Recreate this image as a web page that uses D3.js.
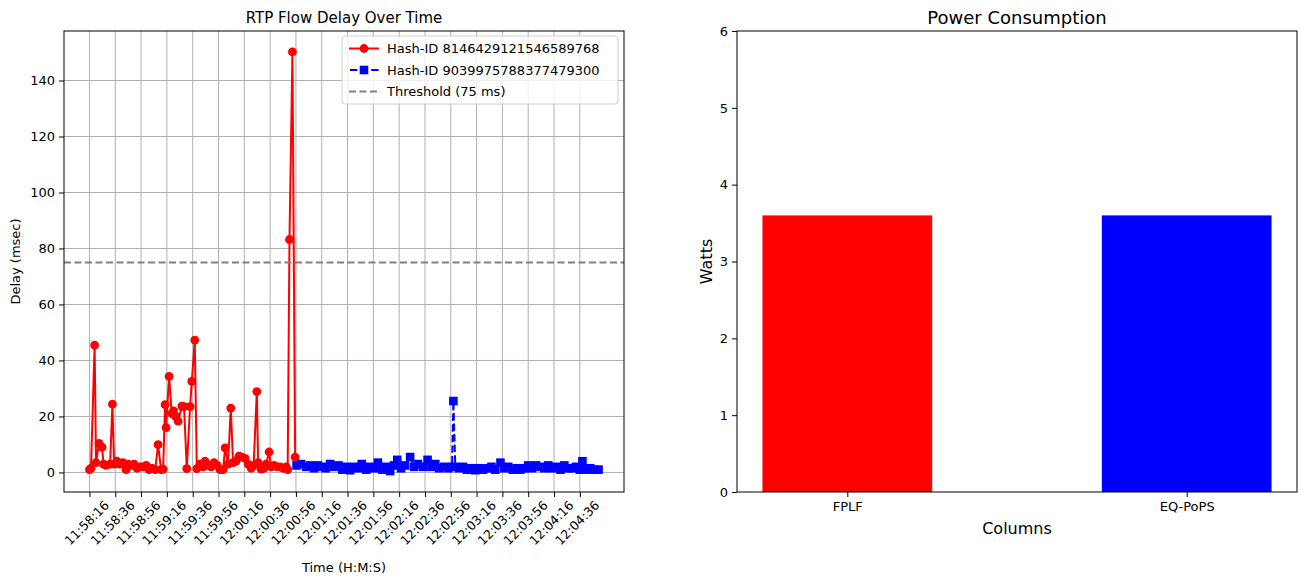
<!DOCTYPE html>
<html>
<head>
<meta charset="utf-8">
<script src="https://cdn.jsdelivr.net/npm/d3@7"></script>
<style>
  body { margin: 0; background: #fff; }
  text { font-family: "DejaVu Sans", sans-serif; fill: #000; }
</style>
</head>
<body>
<svg id="chart" width="1301" height="579"></svg>
<script>
// ---- data ----
var startTime = "11:58:16";
// seconds after start, delay in msec
var redSec = [0, 1.2, 4.0, 5.1, 7.4, 9.8, 10.9, 12.9, 16.0, 17.8, 19.1, 21.4, 23.7, 26.0, 28.4, 29.9,
  32.2, 34.6, 36.9, 39.2, 41.6, 43.9, 46.2, 48.5, 50.9, 53.2, 55.5, 57.1, 58.6, 59.4, 61.7, 63.8,
  65.2, 66.7, 68.7, 71.6, 73.3, 75.4, 78.0, 79.3, 81.6, 83.2, 85.7, 88.1, 89.6, 91.9, 94.3, 96.6,
  98.9, 101.2, 103.6, 105.1, 107.4, 109.5, 111.3, 113.6, 115.9, 118.1, 120.6, 123.0, 125.3, 127.2,
  129.7, 130.7, 133.0, 135.3, 136.9, 139.2, 140.8, 143.1, 145.4, 147.7, 150.1, 152.4, 153.6, 155.0,
  157.3, 159.4];
var redDelay = [1.0, 1.5, 45.5, 3.5, 10.4, 9.0, 3.0, 2.5, 3.0, 24.4, 3.0, 4.0, 3.0, 3.5, 1.0, 3.0,
  2.5, 3.0, 1.5, 2.0, 2.0, 2.5, 1.0, 1.5, 1.0, 9.9, 1.0, 1.2, 24.2, 16.0, 34.3, 21.0,
  22.0, 20.0, 18.3, 23.7, 23.5, 1.4, 23.5, 32.5, 47.3, 1.4, 3.0, 2.0, 4.0, 2.5, 2.0, 3.5,
  2.5, 1.0, 1.0, 8.8, 3.0, 23.0, 3.5, 4.0, 5.8, 5.5, 5.0, 3.0, 1.5, 2.5,
  28.9, 3.5, 1.2, 1.5, 3.0, 7.3, 2.0, 2.5, 2.0, 2.0, 1.5, 2.0, 1.0, 83.2,
  150.2, 5.5];
var blueSec = [160.5, 164, 168, 171, 174, 177, 180, 183, 186.5, 189.5, 193, 196, 199, 202, 205, 208,
  211, 214.5, 217.5, 220.5, 223.5, 227, 230, 233, 236, 238.5, 241.5, 244.5, 248.5, 251.5, 254.5,
  258.5, 262, 265, 268, 271, 275, 278, 281, 282, 283.5, 286.5, 289.5, 292.5, 296, 299, 302, 305,
  308.5, 311.5, 314.5, 318.5, 321.5, 324.5, 328, 331, 334, 337, 340, 343, 346, 349.5, 352.5, 355.5,
  358.5, 361.5, 365, 368, 371, 374, 377, 380, 382, 385, 388, 391, 394.5];
var blueDelay = [2.5, 3, 2, 2.5, 1.5, 2.5, 2, 1.5, 3, 2, 2.5, 1, 2, 0.8, 2, 1.5,
  3, 1, 2, 1.5, 3.5, 1, 2, 0.5, 2.5, 4.5, 1.5, 2.5, 5.5, 2, 3,
  2, 4.5, 2, 3, 1.5, 2, 1.5, 2, 25.5, 2, 1.5, 2, 1, 1.5, 0.8, 1.5, 1,
  1.5, 2, 1, 3.5, 1.5, 2, 1, 1.5, 1, 1.5, 2.5, 1.5, 2.5, 2, 1.5, 2.5,
  1.5, 2, 1, 2.5, 1.5, 1.5, 2, 1, 4, 1, 1.5, 1, 1];
var threshold = 75;
var tickEvery = 20; // seconds
var lastTickSec = 380;
var delayTicks = [0, 20, 40, 60, 80, 100, 120, 140];
var seriesNames = ["Hash-ID 8146429121546589768", "Hash-ID 9039975788377479300", "Threshold (75 ms)"];

var powerCats = ["FPLF", "EQ-PoPS"];
var powerVals = [3.6, 3.6];
var powerColors = ["#ff0000", "#0000ff"];
var powerTicks = [0, 1, 2, 3, 4, 5, 6];

var svg = d3.select("#chart");

// ---- left: delay over time ----
var parts = startTime.split(":").map(Number);
var t0 = new Date(2024, 0, 1, parts[0], parts[1], parts[2]);
function toTime(s) { return new Date(t0.getTime() + s * 1000); }

var red = redSec.map(function(s, i){ return {t: toTime(s), v: redDelay[i]}; });
var blue = blueSec.map(function(s, i){ return {t: toTime(s), v: blueDelay[i]}; });
var all = red.concat(blue);

var L = {x0: 64, x1: 624, y0: 31, y1: 492};

var tExt = d3.extent(all, function(d){ return d.t.getTime(); });
var tPad = (tExt[1] - tExt[0]) * 0.05;
var x = d3.scaleTime()
  .domain([new Date(tExt[0] - tPad), new Date(tExt[1] + tPad)])
  .range([L.x0, L.x1]);

var vExt = d3.extent(all, function(d){ return d.v; });
var vPad = (vExt[1] - vExt[0]) * 0.05;
var y = d3.scaleLinear()
  .domain([vExt[0] - vPad, vExt[1] + vPad])
  .range([L.y1, L.y0]);

var timeTicks = d3.range(0, lastTickSec + 1, tickEvery).map(toTime);
var fmt = d3.timeFormat("%H:%M:%S");

var left = svg.append("g");

// grid
left.append("g").selectAll("line").data(timeTicks).join("line")
  .attr("x1", function(d){ return x(d); }).attr("x2", function(d){ return x(d); })
  .attr("y1", L.y0).attr("y2", L.y1)
  .attr("stroke", "#b0b0b0").attr("stroke-width", 1);
left.append("g").selectAll("line").data(delayTicks).join("line")
  .attr("x1", L.x0).attr("x2", L.x1)
  .attr("y1", function(d){ return y(d); }).attr("y2", function(d){ return y(d); })
  .attr("stroke", "#b0b0b0").attr("stroke-width", 1);

left.append("clipPath").attr("id", "clipL").append("rect")
  .attr("x", L.x0).attr("y", L.y0).attr("width", L.x1 - L.x0).attr("height", L.y1 - L.y0);
var plot = left.append("g").attr("clip-path", "url(#clipL)");

var line = d3.line().x(function(d){ return x(d.t); }).y(function(d){ return y(d.v); });

plot.append("path").datum(red).attr("d", line)
  .attr("fill", "none").attr("stroke", "#ff0000").attr("stroke-width", 2).attr("stroke-linejoin", "round");
plot.append("g").selectAll("circle").data(red).join("circle")
  .attr("cx", function(d){ return x(d.t); }).attr("cy", function(d){ return y(d.v); })
  .attr("r", 4.4).attr("fill", "#ff0000");

plot.append("path").datum(blue).attr("d", line)
  .attr("fill", "none").attr("stroke", "#0000ff").attr("stroke-width", 2).attr("stroke-dasharray", "7.4,3.2");
plot.append("g").selectAll("rect").data(blue).join("rect")
  .attr("x", function(d){ return x(d.t) - 4.3; }).attr("y", function(d){ return y(d.v) - 4.3; })
  .attr("width", 8.6).attr("height", 8.6).attr("fill", "#0000ff");

plot.append("line")
  .attr("x1", L.x0).attr("x2", L.x1).attr("y1", y(threshold)).attr("y2", y(threshold))
  .attr("stroke", "#808080").attr("stroke-width", 1.8).attr("stroke-dasharray", "7,3.5");

// axes
var xAxisL = left.append("g").attr("transform", "translate(0," + L.y1 + ")")
  .call(d3.axisBottom(x).tickValues(timeTicks).tickFormat(fmt).tickSizeOuter(0).tickSize(5).tickPadding(3));
xAxisL.selectAll("text")
  .style("font-size", "12.5px")
  .attr("text-anchor", "middle")
  .attr("dy", null)
  .attr("y", 0)
  .attr("transform", "translate(0,34) rotate(-45)");
var yAxisL = left.append("g").attr("transform", "translate(" + L.x0 + ",0)")
  .call(d3.axisLeft(y).tickValues(delayTicks).tickSizeOuter(0).tickSize(5).tickPadding(4));
yAxisL.selectAll("text").style("font-size", "13px");
[xAxisL, yAxisL].forEach(function(a){
  a.select(".domain").remove();
  a.selectAll("line").attr("stroke", "#000");
});
left.append("rect").attr("x", L.x0).attr("y", L.y0)
  .attr("width", L.x1 - L.x0).attr("height", L.y1 - L.y0)
  .attr("fill", "none").attr("stroke", "#000").attr("stroke-width", 1);

left.append("text").attr("x", (L.x0 + L.x1) / 2).attr("y", 23)
  .attr("text-anchor", "middle").style("font-size", "15px").text("RTP Flow Delay Over Time");
left.append("text").attr("x", (L.x0 + L.x1) / 2).attr("y", 572)
  .attr("text-anchor", "middle").style("font-size", "13px").text("Time (H:M:S)");
left.append("text").attr("transform", "translate(20," + ((L.y0 + L.y1) / 2) + ") rotate(-90)")
  .attr("text-anchor", "middle").style("font-size", "13px").text("Delay (msec)");

// legend
var lg = left.append("g").attr("transform", "translate(342,36)");
lg.append("rect").attr("width", 276).attr("height", 68).attr("rx", 3)
  .attr("fill", "#fff").attr("fill-opacity", 0.8).attr("stroke", "#d0d0d0");
var rows = [12.5, 34, 55.5];
lg.append("line").attr("x1", 7).attr("x2", 37).attr("y1", rows[0]).attr("y2", rows[0])
  .attr("stroke", "#ff0000").attr("stroke-width", 2);
lg.append("circle").attr("cx", 22).attr("cy", rows[0]).attr("r", 4.4).attr("fill", "#ff0000");
lg.append("line").attr("x1", 7).attr("x2", 37).attr("y1", rows[1]).attr("y2", rows[1])
  .attr("stroke", "#0000ff").attr("stroke-width", 2).attr("stroke-dasharray", "7.4,3.2").attr("stroke-dashoffset", -1);
lg.append("rect").attr("x", 17.7).attr("y", rows[1] - 4.3).attr("width", 8.6).attr("height", 8.6).attr("fill", "#0000ff");
lg.append("line").attr("x1", 7).attr("x2", 37).attr("y1", rows[2]).attr("y2", rows[2])
  .attr("stroke", "#808080").attr("stroke-width", 1.8).attr("stroke-dasharray", "7,3.5");
lg.selectAll("text.lt").data(seriesNames).join("text").attr("class", "lt")
  .attr("x", 45).attr("y", function(d, i){ return rows[i] + 4.7; })
  .style("font-size", "13px").text(function(d){ return d; });

// ---- right: power consumption ----
var R = {x0: 737, x1: 1297, y0: 31, y1: 492};
var barW = 0.5;
var xb = d3.scaleLinear()
  .domain([-barW / 2 - 0.075, powerCats.length - 1 + barW / 2 + 0.075])
  .range([R.x0, R.x1]);
var yb = d3.scaleLinear().domain([0, 6]).range([R.y1, R.y0]);

var right = svg.append("g");
right.append("g").selectAll("rect").data(powerVals).join("rect")
  .attr("x", function(d, i){ return xb(i - barW / 2); })
  .attr("width", function(d, i){ return xb(i + barW / 2) - xb(i - barW / 2); })
  .attr("y", function(d){ return yb(d); })
  .attr("height", function(d){ return yb(0) - yb(d); })
  .attr("fill", function(d, i){ return powerColors[i]; });

var xAxisR = right.append("g").attr("transform", "translate(0," + R.y1 + ")")
  .call(d3.axisBottom(xb).tickValues(d3.range(powerCats.length))
    .tickFormat(function(d){ return powerCats[d]; }).tickSizeOuter(0).tickSize(5).tickPadding(5));
var yAxisR = right.append("g").attr("transform", "translate(" + R.x0 + ",0)")
  .call(d3.axisLeft(yb).tickValues(powerTicks).tickFormat(d3.format("d")).tickSizeOuter(0).tickSize(5).tickPadding(4));
[xAxisR, yAxisR].forEach(function(a){
  a.select(".domain").remove();
  a.selectAll("line").attr("stroke", "#000");
  a.selectAll("text").style("font-size", "13px");
});
right.append("rect").attr("x", R.x0).attr("y", R.y0)
  .attr("width", R.x1 - R.x0).attr("height", R.y1 - R.y0)
  .attr("fill", "none").attr("stroke", "#000").attr("stroke-width", 1);

right.append("text").attr("x", (R.x0 + R.x1) / 2).attr("y", 24)
  .attr("text-anchor", "middle").style("font-size", "18px").text("Power Consumption");
right.append("text").attr("x", (R.x0 + R.x1) / 2).attr("y", 534)
  .attr("text-anchor", "middle").style("font-size", "16px").text("Columns");
right.append("text").attr("transform", "translate(712," + ((R.y0 + R.y1) / 2) + ") rotate(-90)")
  .attr("text-anchor", "middle").style("font-size", "16px").text("Watts");
</script>
</body>
</html>
